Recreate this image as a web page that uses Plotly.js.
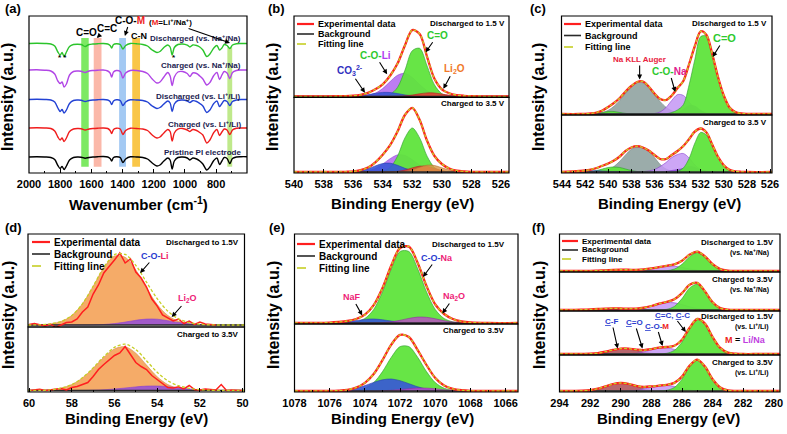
<!DOCTYPE html>
<html><head><meta charset="utf-8">
<script src="https://cdn.plot.ly/plotly-3.0.1.min.js"></script>
<style>html,body{margin:0;padding:0;background:#fff}#chart{width:787px;height:434px}</style>
</head><body><div id="chart"></div>
<script>
const W = 787, H = 434;
const FAM = '"Liberation Sans", Arial, Helvetica, sans-serif';
const px = x => x / W, py = y => 1 - y / H;

// ---------- (a) FTIR ----------
const aWavenumber = [2000,1950,1900,1860,1835,1815,1800,1788,1775,1760,1740,1715,1690,1665,1640,1615,1590,1560,1525,1495,1480,1470,1458,1440,1415,1398,1380,1350,1310,1270,1240,1210,1180,1160,1135,1110,1095,1082,1068,1045,1015,985,968,950,925,905,885,860,840,815,795,778,763,748,730,712,695,670,640,600];
const aDischargedNa = [129.5,129.8,129.5,129,127,121,118,120.5,116.5,121,126.5,128.5,128.8,128.5,126.5,128.5,129,129.3,129.5,129,127.5,125,128.5,129.3,128.5,124,127.5,129.5,129.2,128.5,127,123,120.5,121.5,125.5,128,126,118,125.5,128.5,129,127.8,126,128,127.5,126,123,116.5,119,125,127.5,123,125,128.5,127.5,124.5,128,129.3,129.5,129.5];
const aChargedNa = [103,103.3,102.8,102,99,92,89.5,91,86,89,98,101.5,102,101.8,100.5,102,102.5,102.8,103,102,100,96,101,102.5,101.5,95,100,102.5,102.5,101.5,99.5,94,90,91,96,100.5,97,87.5,96,101,101.5,99.5,96.5,100,99.5,97,94,88,90.5,97.5,100.5,93.5,98,101.5,100,94.5,100.5,102.5,103,103];
const aDischargedLi = [73.5,73.8,73.5,73,71,65,61.5,63.5,60,63,69.5,72.5,73,72.8,71.5,72.5,73,73.3,73.5,73,71.5,68.5,72,73.2,72.5,67.5,71,73.2,73,72.5,71,67,64.5,65.5,69,72,70,61.5,69,72.5,73,72,70.5,72.3,71.5,69.5,67,60.5,63,69.5,72,66.5,69.5,72.5,71.5,67.5,71.5,73,73.5,73.5];
const aChargedLi = [45,45.3,45,44.5,42,36,33,35,31.5,35,41.5,44,44.5,44.3,43,44,44.5,44.8,45,44.5,42.5,39.5,43.5,44.8,44,38.5,42.5,44.8,44.5,44,42.5,38,35,36,40,43.5,41.5,32,40,44,44.5,43,41.5,43.5,42.5,40.5,38,30,33,40.5,43.5,37.5,41,44,43,38.5,43,44.7,45,45];
const aPristine = [16,16.3,16,15.5,13.5,7.5,4.5,6.5,3.5,7,13,15.5,16,15.8,14.8,15.5,16,16.3,16.5,16,14.5,12,15.5,16.3,15.5,10.5,14,16.2,16,15.5,14,10,7,8,12,15,13,4,12,15.5,16,15,13,15,14,12,9,3,6,12.5,15,8.5,12,15.5,14.5,9.5,14.5,16,16.3,16.3];
const aTraceLabels = ['Discharged (vs. Na<sup>+</sup>/Na)','Charged (vs. Na<sup>+</sup>/Na)','Discharged (vs. Li<sup>+</sup>/Li)','Charged (vs. Li<sup>+</sup>/Li)','Pristine PI electrode'];
const aBandStart = [1665,1585,1422,1338,728];
const aBandEnd = [1617,1535,1378,1288,697];

// ---------- (b) O 1s, Li cell ----------
const bEnergy = [540,538,537,536.5,536,535.5,535,534.5,534,533.5,533,532.5,532,531.5,531,530.5,530,529.5,529,528.5,528,527,525.46];
const bTopCO = [0,0,0,0,0,0,0,0,0.2,1.9,8.9,26,45.6,48,30.4,11.5,2.6,0.4,0,0,0,0,0];
const bTopCOLi = [0,0,0,0,0.1,0.2,0.9,3.1,7.8,14.7,21,22.9,18.8,11.8,5.6,2.0,0.55,0.1,0,0,0,0,0];
const bTopCO3 = [0,0,0,0.05,0.2,0.7,1.6,3.0,3.9,3.8,2.7,1.4,0.5,0.1,0,0,0,0,0,0,0,0,0];
const bTopLi2O = [0,0,0,0,0,0,0,0,0,0,0.1,0.5,1.3,2.5,3.4,3.3,2.2,1.1,0.4,0.1,0,0,0];
const bTopExp = [0,0,0.05,0.2,0.6,1.5,3.5,7,12,20.5,32.7,50.8,66.2,62.4,39.4,17.5,7,3,1.2,0.5,0.2,0,0];
const bBotCO = [0,0,0,0,0,0,0,0.1,0.75,4.5,15.8,34.1,44,34.1,15.8,4.5,0.75,0.1,0,0,0,0,0];
const bBotCOLi = [0,0,0,0.05,0.1,0.35,1.2,3.5,7.9,13.3,17.1,16.6,12.3,6.9,2.9,0.9,0.2,0,0,0,0,0,0];
const bBotCO3 = [0,0,0,0.1,0.35,1.2,3.2,6.1,8.5,8.8,6.7,3.7,1.5,0.45,0.1,0,0,0,0,0,0,0,0];
const bBotLi2O = [0,0,0,0,0,0,0,0,0,0.15,0.6,1.95,4.1,5.8,5.6,3.6,1.6,0.5,0.1,0,0,0,0];
const bBotExtra = [0,0,0,0,0,0,0,0,0,0,0.2,0.7,2.3,4.8,6.8,6.5,4.2,1.9,0.55,0.1,0,0,0];
const bBotExp = [0,0,0.1,0.2,0.5,1.8,4.4,9.7,17.2,26.8,40.4,57,64.2,52,31.2,16,8,3.5,1.3,0.5,0.2,0,0];

// ---------- (c) O 1s, Na cell ----------
const cEnergy = [544.04,542.5,542,541.5,541,540.5,540,539.5,539,538.5,538,537.5,537,536.5,536,535.5,535,534.5,534,533.5,533,532.5,532,531.5,531,530.5,530,529.5,529,528.5,528,525.83];
const cTopAuger = [0,0,0,0.2,0.6,1.5,3.7,7.7,13.6,20.9,27.7,31.6,31.2,26.5,19.4,12.3,6.7,3.2,1.3,0.5,0.2,0,0,0,0,0,0,0,0,0,0,0];
const cTopMinor = [0,0,0,0.1,0.5,1.5,2.5,2.5,1.5,0.6,0.2,0,0,0,0,0,0,0,0,0,0,0,0,0,0,0,0,0,0,0,0,0];
const cTopCONa = [0,0,0,0,0,0,0,0,0,0,0,0,0,0.1,0.45,2.1,6.5,13.6,19.4,18.6,12.1,5.3,1.6,0.3,0,0,0,0,0,0,0,0];
const cTopCONa2 = [0,0,0,0,0,0,0,0,0,0,0,0,0,0,0,0,0,0.2,1.2,4.6,8.5,7.9,3.7,0.85,0.15,0,0,0,0,0,0,0];
const cTopCO = [0,0,0,0,0,0,0,0,0,0,0,0,0,0,0,0,0.1,1.5,4.1,9.3,29.2,54.8,77.4,77.8,59.8,37,18.5,6.5,2,0.6,0.2,0];
const cTopExp = [0,0,0.2,0.6,1.5,3.5,7,11,16,22.5,28,32,32.5,27.5,20.5,15,14,18.5,26,33,50,68,82.7,79,60,37,18.5,6.5,2,0.6,0.2,0];
const cBotAuger = [0,0,0,0,0.3,0.8,2.4,5.5,10.7,17.1,22.7,25,24,20.5,14.5,7.5,3,1,0.3,0,0,0,0,0,0,0,0,0,0,0,0,0];
const cBotMinor = [0,0,0.1,0.5,1.5,3,4.5,5,4.5,3,1.5,0.5,0.1,0,0,0,0,0,0,0,0,0,0,0,0,0,0,0,0,0,0,0];
const cBotMinor2 = [0,0.6,1,1.2,1.2,1,0.6,0.3,0.1,0,0,0,0,0,0,0,0,0,0,0,0,0,0,0,0,0,0,0,0,0,0,0];
const cBotCONa = [0,0,0,0,0,0,0,0,0,0,0,0,0.3,1,2.5,5.5,9.5,14.5,17.5,18.5,14,7,2.5,0.8,0.2,0,0,0,0,0,0,0];
const cBotCONa2 = [0,0,0,0,0,0,0,0,0,0,0,0,0,0,0,0,0.5,1.5,2.5,3.5,5.5,4.5,2,0.7,0.2,0,0,0,0,0,0,0];
const cBotCO = [0,0,0,0,0,0,0,0,0,0,0,0,0,0,0,0,0,0,0.8,4,13.6,29,39.6,36.9,26.7,15,6.6,2.2,0.6,0.15,0,0];
const cBotExp = [0,1,1.5,2.5,4,6.3,8.5,11.5,15.5,21,24.5,25.8,24.5,21.5,17,13,13,17,21,26,33,40.5,43.5,39.5,27.5,15.2,6.8,2.2,0.7,0.2,0,0];

// ---------- (d) Li 1s ----------
const dEnergy = [60.05,59.5,59,58.5,58,57.5,57,56.5,56,55.5,55,54.5,54,53.5,53,52.5,52,51.5,51,50.5,49.91];
const dTopCOLi = [0,0.2,1.1,3.5,9.5,21.2,38.6,57.2,68.9,67.7,55,36.9,20.6,9.5,3.7,1.2,0.3,0,0,0,0];
const dTopLi2O = [0,0,0,0,0,0,0.1,0.5,1.4,2.9,4.7,5.9,5.8,4.3,2.5,1.2,0.4,0.1,0,0,0];
const dTopFit = [0,0.2,1.1,3.5,9.5,21.2,38.7,57.7,70.3,70.6,59.7,42.8,26.4,13.8,6.2,2.4,0.7,0.1,0,0,0];
const dBotCOLi = [0,0.1,0.6,2.4,5.9,12.6,22.3,33.2,41.6,43.8,37.3,25.4,13.8,5.9,2.1,0.6,0.1,0,0,0,0];
const dBotLi2O = [0,0,0,0,0,0.1,0.3,0.7,1.5,2.5,3.6,4.4,4.5,3.8,2.7,1.6,0.8,0.3,0.1,0,0];
const dBotFit = [0,0.1,0.6,2.4,5.9,12.7,22.6,33.9,43.1,46.3,40.9,29.8,18.3,9.7,4.8,2.2,0.9,0.3,0.1,0,0];
const dExpEnergy = [60,59.75,59.5,59.25,59,58.75,58.5,58.25,58,57.75,57.5,57.25,57,56.75,56.5,56.25,56,55.75,55.5,55.25,55,54.75,54.5,54.25,54,53.75,53.5,53.25,53,52.75,52.5,52.25,52,51.75,51.5,51.25,51,50.75,50.5,50.25,50];
const dTopExp = [0.5,1.5,0.3,-1,0.8,-2.5,0,2.5,3,6,13,18,31,40,52,58,65,72,62,66,53,47,38,26,19,10,7,4,6,1.5,4,0.5,3,1,0.5,0,null,null,null,null,null];
const dBotExp = [0,0.3,1.2,0,0.5,1,2,0.5,3,4,6,8,14,21,26,31,35,37.5,44,36,28,24,21,15,11,7,3,2.5,3.7,1.5,5,1,0.5,1.5,0.8,0.5,6,0,0.5,0,0];

// ---------- (e) Na 1s ----------
const eEnergy = [1078,1077,1076,1075.5,1075,1074.5,1074,1073.5,1073,1072.5,1072,1071.5,1071,1070.5,1070,1069.5,1069,1068.5,1068,1067,1065.3];
const eTopCONa = [0,0,0,0,0.2,1.1,4.5,13.5,31.2,54.2,71.5,71.5,54.2,31.2,13.5,4.5,1.1,0.2,0,0,0];
const eTopNaF = [0,0,0.15,0.5,1.2,2.4,3.6,4,3.2,1.9,0.8,0.25,0,0,0,0,0,0,0,0,0];
const eTopNa2O = [0,0,0,0,0,0,0,0,0.4,1.2,2.7,4.6,5.9,5.7,4.2,2.3,1.0,0.3,0.1,0,0];
const eTopExp = [0,0.1,0.4,1,2,4,8.3,17.8,35,57.5,75,76.4,60.1,37,18.5,9,4,1.5,0.5,0,0];
const eBotCONa = [0,0,0,0,0.1,0.7,2.8,8.4,19.4,33.7,44.4,44.4,33.7,19.4,8.4,2.8,0.7,0.1,0,0,0];
const eBotNaF = [0,0,0.1,0.4,1.1,2.7,5.4,8.6,11.2,12,10.3,7.3,4.2,1.9,0.7,0.2,0,0,0,0,0];
const eBotNa2O = [0,0,0,0,0,0,0,0,0.3,0.7,1.4,2.3,2.9,2.9,2.2,1.3,0.6,0.2,0,0,0];
const eBotExp = [0,0,0.1,0.4,1.2,3.4,8.2,17,30.9,46.4,56.1,54,40.8,26,13,5.5,2.2,0.8,0.2,0,0];

// ---------- (f) C 1s ----------
const fEnergy = [294,293,292.5,292,291.5,291,290.5,290,289.5,289,288.5,288,287.5,287,286.5,286,285.5,285,284.5,284,283.5,283,282.5,282,281,279.6];
const f1CC = [0,0,0,0,0,0,0,0,0,0,0,0,0,0.3,1.9,6.7,14.3,18.5,14.3,6.7,1.9,0.3,0,0,0,0];
const f1COM = [0,0,0,0,0,0,0,0.05,0.15,0.5,1.2,2.4,3.9,4.9,4.8,3.6,2.1,0.9,0.3,0.1,0,0,0,0,0,0];
const f1CF = [0,0,0,0.15,0.4,0.7,1.1,1.2,1.1,0.7,0.4,0.15,0,0,0,0,0,0,0,0,0,0,0,0,0,0];
const f1Exp = [0,0,0.05,0.15,0.4,0.7,1.1,1.25,1.25,1.2,1.6,2.55,3.9,5.2,6.7,10.3,16.4,19.4,14.6,6.8,1.9,0.3,0.05,0,0,0];
const f2CC = [0,0,0,0,0,0,0,0,0,0,0,0,0.1,0.65,3.5,11.4,22.1,25.7,18,7.6,1.9,0.3,0,0,0,0];
const f2COM = [0,0,0,0,0,0,0,0.1,0.3,0.8,2.0,3.9,6.1,7.4,7.2,5.4,3.2,1.5,0.6,0.2,0,0,0,0,0,0];
const f2CF = [0,0.1,0.3,0.6,1,1.4,1.6,1.4,1,0.6,0.25,0.1,0,0,0,0,0,0,0,0,0,0,0,0,0,0];
const f2Exp = [0,0.1,0.3,0.6,1,1.4,1.6,1.5,1.3,1.4,2.25,4.0,6.3,8.05,10.7,16.8,25.3,27.2,18.6,7.8,1.9,0.3,0,0,0,0];
const f3CC = [0,0,0,0,0,0,0,0,0,0,0,0,0.1,0.7,3.6,11.9,25.4,34.7,30.4,17,6.1,1.4,0.3,0,0,0];
const f3COM = [0,0,0,0,0,0,0,0,0.2,0.7,2.0,4.2,6.1,6.3,4.6,2.4,0.9,0.3,0,0,0,0,0,0,0,0];
const f3CF = [0,0,0.1,0.3,0.9,2.3,4.1,5.4,5.2,3.7,1.9,0.7,0.25,0,0,0,0,0,0,0,0,0,0,0,0,0];
const f3Exp = [0,0,0.1,0.3,0.9,2.3,4.1,5.4,5.4,4.4,3.9,4.9,6.45,7.0,8.2,14.3,26.3,35,30.4,17,6.1,1.4,0.3,0,0,0];
const f4CC = [0,0,0,0,0,0,0,0,0,0,0,0,0.1,0.65,3.5,11.8,24.4,31,24.4,11.8,3.5,0.65,0.1,0,0,0];
const f4COM = [0,0,0,0,0,0,0,0,0.2,0.6,1.9,3.7,5.0,5.5,4.6,2.6,1.1,0.3,0,0,0,0,0,0,0,0];
const f4CF = [0,0.05,0.25,0.9,2.3,4.6,7.0,8,7.0,4.6,2.3,0.9,0.25,0.05,0,0,0,0,0,0,0,0,0,0,0,0];
const f4Exp = [0,0.05,0.25,0.9,2.3,4.6,7.0,8,7.2,5.2,4.2,4.6,5.35,6.2,8.1,14.4,25.5,31.3,24.4,11.8,3.5,0.65,0.1,0,0,0];

const baselineY = [0, 0];

// ---------- colours ----------
const C = {
  green: 'rgba(95,228,60,0.95)', greenL: '#2f9a2f',
  purple: 'rgba(178,102,240,0.85)', purpleL: '#8a3fd0',
  purple2: 'rgba(140,70,225,0.8)',
  lav: 'rgba(196,150,245,0.85)',
  blue: 'rgba(55,85,215,0.9)', blueL: '#2840b0',
  red: 'rgba(235,50,50,0.85)', redL: '#b02020',
  orange: 'rgba(220,150,70,0.8)',
  grey: 'rgba(150,168,165,0.95)', greyL: '#6f8480',
  sand: 'rgba(244,166,96,0.95)', sandL: '#d58a48',
  magenta: 'rgba(190,70,200,0.8)',
  brown: 'rgba(170,75,85,0.85)',
  exp: '#ff1f1f', fit: '#c6cf24', bg: '#2a2a2a'
};

const traces = [];
function area(xa, ya, x, y, fill, line) {
  traces.push({type:'scatter', mode:'lines', x:x, y:y, xaxis:xa, yaxis:ya, fill:'tozeroy', fillcolor:fill,
    line:{color:line, width:0.6, shape:'spline', smoothing:0.9}, hoverinfo:'skip', showlegend:false});
}
function curve(xa, ya, x, y, color, width, dash, shape) {
  traces.push({type:'scatter', mode:'lines', x:x, y:y, xaxis:xa, yaxis:ya,
    line:{color:color, width:width, dash:dash || 'solid', shape:shape || 'spline', smoothing:0.9},
    hoverinfo:'skip', showlegend:false, connectgaps:false});
}
function spectrum(xa, ya, x, exp, fit, expX, expShape) {
  curve(xa, ya, [x[0], x[x.length - 1]], baselineY, C.bg, 1.3);
  curve(xa, ya, expX || x, exp, C.exp, expX ? 1.5 : 2.3, 'solid', expShape);
  curve(xa, ya, x, fit, C.fit, 1.3, '3px,2px');
}

// (a)
const aSeries = [aDischargedNa, aChargedNa, aDischargedLi, aChargedLi, aPristine];
const aColors = ['#2bc42b', '#b146e6', '#2342d4', '#f01c1c', '#000000'];
aSeries.forEach((s, i) => curve('x', 'y', aWavenumber, s, aColors[i], 1.4));

// (b)
area('x2','y2', bEnergy, bTopCOLi, C.purple, C.purpleL);
area('x2','y2', bEnergy, bTopCO, C.green, C.greenL);
area('x2','y2', bEnergy, bTopCO3, C.blue, C.blueL);
area('x2','y2', bEnergy, bTopLi2O, C.red, C.redL);
spectrum('x2','y2', bEnergy, bTopExp, bTopExp);
area('x2','y3', bEnergy, bBotCOLi, C.purple, C.purpleL);
area('x2','y3', bEnergy, bBotCO, C.green, C.greenL);
area('x2','y3', bEnergy, bBotCO3, C.blue, C.blueL);
area('x2','y3', bEnergy, bBotLi2O, C.red, C.redL);
area('x2','y3', bEnergy, bBotExtra, C.orange, '#b07030');
spectrum('x2','y3', bEnergy, bBotExp, bBotExp);

// (c)
area('x3','y4', cEnergy, cTopAuger, C.grey, C.greyL);
area('x3','y4', cEnergy, cTopMinor, C.green, C.greenL);
area('x3','y4', cEnergy, cTopCONa, C.lav, C.purpleL);
area('x3','y4', cEnergy, cTopCONa2, C.purple2, C.purpleL);
area('x3','y4', cEnergy, cTopCO, C.green, C.greenL);
spectrum('x3','y4', cEnergy, cTopExp, cTopExp);
area('x3','y5', cEnergy, cBotAuger, C.grey, C.greyL);
area('x3','y5', cEnergy, cBotMinor, C.green, C.greenL);
area('x3','y5', cEnergy, cBotMinor2, C.blue, C.blueL);
area('x3','y5', cEnergy, cBotCONa, C.lav, C.purpleL);
area('x3','y5', cEnergy, cBotCONa2, C.purple2, C.purpleL);
area('x3','y5', cEnergy, cBotCO, C.green, C.greenL);
spectrum('x3','y5', cEnergy, cBotExp, cBotExp);

// (d)
area('x4','y6', dEnergy, dTopCOLi, C.sand, C.sandL);
area('x4','y6', dEnergy, dTopLi2O, C.purple2, C.purpleL);
spectrum('x4','y6', dEnergy, dTopExp, dTopFit, dExpEnergy, 'linear');
area('x4','y7', dEnergy, dBotCOLi, C.sand, C.sandL);
area('x4','y7', dEnergy, dBotLi2O, C.purple2, C.purpleL);
spectrum('x4','y7', dEnergy, dBotExp, dBotFit, dExpEnergy, 'linear');

// (e)
area('x5','y8', eEnergy, eTopCONa, C.green, C.greenL);
area('x5','y8', eEnergy, eTopNaF, C.blue, C.blueL);
area('x5','y8', eEnergy, eTopNa2O, C.magenta, '#9030a0');
spectrum('x5','y8', eEnergy, eTopExp, eTopExp);
area('x5','y9', eEnergy, eBotCONa, C.green, C.greenL);
area('x5','y9', eEnergy, eBotNaF, C.blue, C.blueL);
area('x5','y9', eEnergy, eBotNa2O, C.magenta, '#9030a0');
spectrum('x5','y9', eEnergy, eBotExp, eBotExp);

// (f)
[[f1CC,f1COM,f1CF,f1Exp,'y10'],[f2CC,f2COM,f2CF,f2Exp,'y11'],[f3CC,f3COM,f3CF,f3Exp,'y12'],[f4CC,f4COM,f4CF,f4Exp,'y13']].forEach(s => {
  area('x6', s[4], fEnergy, s[2], C.brown, '#803040');
  area('x6', s[4], fEnergy, s[1], C.lav, C.purpleL);
  area('x6', s[4], fEnergy, s[0], C.green, C.greenL);
  spectrum('x6', s[4], fEnergy, s[3], s[3]);
});

// ---------- layout ----------
const layout = {width:W, height:H, margin:{l:0,r:0,t:0,b:0}, paper_bgcolor:'#fff', plot_bgcolor:'rgba(0,0,0,0)',
  showlegend:false, shapes:[], annotations:[], font:{family:FAM, color:'#000'}};

function xAxis(id, domain, range, dtick, anchor) {
  layout['xaxis' + (id === 1 ? '' : id)] = {domain, range, anchor, dtick, tick0:0, ticks:'inside', ticklen:4, tickwidth:1,
    tickcolor:'#000', showline:false, showgrid:false, zeroline:false, ticklabelstandoff:3,
    tickfont:{family:FAM, size:11, color:'#000', weight:700},
    minor:{dtick:dtick/2, tick0:0, ticks:'inside', ticklen:2, tickwidth:1, tickcolor:'#000', showgrid:false},
    fixedrange:true};
}
function yAxis(id, domain, range, anchor) {
  layout['yaxis' + (id === 1 ? '' : id)] = {domain, range, anchor, showticklabels:false, ticks:'', showgrid:false,
    zeroline:false, showline:false, fixedrange:true};
}
function frame(xid, yid) {
  layout.shapes.push({type:'rect', xref:xid + ' domain', yref:yid + ' domain', x0:0, x1:1, y0:0, y1:1,
    line:{color:'#000', width:1.2}, layer:'above'});
}
function txt(x, y, text, size, color, opts) {
  layout.annotations.push(Object.assign({xref:'paper', yref:'paper', x:px(x), y:py(y), text, showarrow:false,
    font:{family:FAM, size, color:color || '#000', weight:700}, xanchor:'center', yanchor:'middle'}, opts || {}));
}
function arrowTxt(xref, yref, x, y, ax, ay, text, size, color) {
  layout.annotations.push({xref, yref, x, y, ax, ay, axref:'pixel', ayref:'pixel', text, showarrow:true,
    arrowhead:2, arrowsize:0.9, arrowwidth:1.1, arrowcolor:'#000', standoff:0,
    font:{family:FAM, size, color, weight:700}});
}
function legend(x, y, gap, len, size) {
  const items = [['Experimental data', C.exp, 'solid', 2.2], ['Background', C.bg, 'solid', 1.6], ['Fitting line', C.fit, 'dash', 1.6]];
  items.forEach((it, i) => {
    const yy = y + i * gap;
    layout.shapes.push({type:'line', xref:'paper', yref:'paper', x0:px(x), x1:px(x + len), y0:py(yy), y1:py(yy),
      line:{color:it[1], width:it[3], dash:it[2]}});
    txt(x + len + 2, yy, it[0], size, '#000', {xanchor:'left'});
  });
}

// axes
xAxis(1, [0.03685, 0.31385], [2000, 602], 200, 'y');
yAxis(1, [0.60138, 0.96313], [0, 157], 'x');
xAxis(2, [0.37357, 0.64676], [540, 525.46], 2, 'y3');
yAxis(2, [0.77581, 0.96313], [-1, 80.3], 'x2');
yAxis(3, [0.60138, 0.77581], [-1, 74.7], 'x2');
xAxis(3, [0.71347, 0.98094], [544.04, 525.83], 2, 'y5');
yAxis(4, [0.73502, 0.96313], [-1, 98], 'x3');
yAxis(5, [0.60138, 0.73502], [-1, 57], 'x3');
xAxis(4, [0.03558, 0.31067], [60.05, 49.91], 2, 'y7');
yAxis(6, [0.24654, 0.46083], [-2, 91], 'x4');
yAxis(7, [0.09677, 0.24654], [-1.5, 63.5], 'x4');
xAxis(5, [0.37421, 0.65820], [1078, 1065.3], 2, 'y9');
yAxis(8, [0.25346, 0.46083], [-1, 89], 'x5');
yAxis(9, [0.09677, 0.25346], [-1, 67], 'x5');
xAxis(6, [0.71093, 0.99111], [294, 279.6], 2, 'y13');
yAxis(10, [0.37327, 0.46083], [-1, 37], 'x6');
yAxis(11, [0.28341, 0.37327], [-1, 38], 'x6');
yAxis(12, [0.18203, 0.28341], [-1, 43], 'x6');
yAxis(13, [0.09677, 0.18203], [-1, 36], 'x6');

[['x','y'],['x2','y2'],['x2','y3'],['x3','y4'],['x3','y5'],['x4','y6'],['x4','y7'],['x5','y8'],['x5','y9'],
 ['x6','y10'],['x6','y11'],['x6','y12'],['x6','y13']].forEach(p => frame(p[0], p[1]));

// (a) bands
const bandColors = ['rgba(92,228,60,0.8)','rgba(250,160,140,0.75)','rgba(140,188,240,0.8)','rgba(248,188,40,0.85)','rgba(175,228,110,0.8)'];
aBandStart.forEach((s, i) => layout.shapes.push({type:'rect', xref:'x', yref:'y domain', x0:s, x1:aBandEnd[i],
  y0:0.04, y1:i === 4 ? 0.80 : 0.86, fillcolor:bandColors[i], line:{width:0}, layer:'below'}));

// titles
const XT = 'Binding Energy (eV)', YT = 'Intensity (a.u.)';
txt(138, 204, 'Wavenumber (cm<sup>-1</sup>)', 15);
txt(402, 204, XT, 15); txt(669, 204, XT, 15);
txt(136, 418, XT, 15); txt(402, 418, XT, 15); txt(668, 418, XT, 15);
[[8,97],[273,97],[539,97],[8,315],[273,315],[539,315]].forEach(p => txt(p[0], p[1], YT, 16, '#000', {textangle:-90}));
[['(a)',13,9],['(b)',276,9],['(c)',538,9],['(d)',13,228],['(e)',277,228],['(f)',538,228]].forEach(p => txt(p[1], p[2], p[0], 13));

// (a) texts
const navy = '#1c1c50';
[38, 65, 96, 124, 152].forEach((y, i) => txt(243, y, aTraceLabels[i], 8, navy, {xanchor:'right'}));
txt(86, 32, 'C=O', 10);
txt(139, 36, 'C-N', 9);
arrowTxt('x', 'y', 1565, 135, 10, -10, 'C=C', 10, '#000');
arrowTxt('x', 'y', 1385, 137, 5, -16, 'C-O-<span style="color:#ee2222">M</span>', 10, '#000');
arrowTxt('x', 'y', 711, 130, -60, -21, '(<span style="color:#ee2222">M</span>=Li<sup>+</sup>/Na<sup>+</sup>)', 8, '#000');
txt(62, 57, '* *', 8); txt(174, 58, '*', 8);

// (b) texts
legend(297, 24, 10, 17, 9);
txt(507, 24, 'Discharged to 1.5 V', 8, '#000', {xanchor:'right'});
txt(507, 103, 'Charged to 3.5 V', 8, '#000', {xanchor:'right'});
arrowTxt('x2','y2', 531.1, 44, 12, -17, 'C=O', 10, '#2ec92e');
arrowTxt('x2','y2', 533.7, 22, -12, -19, 'C-O-<span style="color:#b23cf0">Li</span>', 10, '#2ec92e');
arrowTxt('x2','y2', 535.2, 3.5, -15, -22, 'CO<sub>3</sub><sup>2-</sup>', 10, '#3030c0');
arrowTxt('x2','y2', 529.9, 7.5, 11, -20, 'Li<sub>2</sub>O', 10, '#f07828');

// (c) texts
legend(564, 24, 11.5, 17, 9);
txt(769, 24, 'Discharged to 1.5 V', 8, '#000', {xanchor:'right'});
txt(769, 122, 'Charged to 3.5 V', 8, '#000', {xanchor:'right'});
arrowTxt('x3','y4', 537.28, 34.5, 0, -20, 'Na KLL Auger', 8, '#e8203c');
arrowTxt('x3','y4', 534.2, 22, -6, -21, 'C-O-<span style="color:#e0208c">Na</span>', 10, '#2ec92e');
arrowTxt('x3','y4', 530.97, 57, 12, -19, 'C=O', 11, '#2ec92e');

// (d) texts
legend(32, 242, 12, 18, 10);
txt(241, 243, 'Discharged to 1.5V', 8, '#000', {xanchor:'right'});
txt(241, 334, 'Charged to 3.5V', 8, '#000', {xanchor:'right'});
arrowTxt('x4','y6', 54.8, 52, 15, -17, 'C-O-<span style="color:#ee2266">Li</span>', 9, '#2a3ccf');
arrowTxt('x4','y6', 53.32, 8, 16, -18, 'Li<sub>2</sub>O', 9, '#ee2277');

// (e) texts
legend(297, 244, 12, 18, 10);
txt(507, 244, 'Discharged to 1.5V', 8, '#000', {xanchor:'right'});
txt(507, 330, 'Charged to 3.5V', 8, '#000', {xanchor:'right'});
arrowTxt('x5','y8', 1070.7, 46, 14, -19, 'C-O-<span style="color:#ee2277">Na</span>', 9, '#2a3ccf');
arrowTxt('x5','y8', 1074.15, 7.5, -10, -18, 'NaF', 9, '#ee2277');
arrowTxt('x5','y8', 1069.6, 9.5, 12, -17, 'Na<sub>2</sub>O', 9, '#ee2277');

// (f) texts
legend(562, 241, 9, 16, 8);
[['Discharged to 1.5V',242,'(vs. Na<sup>+</sup>/Na)',252.5],['Charged to 3.5V',279,'(vs. Na<sup>+</sup>/Na)',289],
 ['Discharged to 1.5V',316,'(vs. Li<sup>+</sup>/Li)',326.5],['Charged to 3.5V',362.5,'(vs. Li<sup>+</sup>/Li)',372]].forEach(r => {
  txt(776, r[1], r[0], 8, '#000', {xanchor:'right'});
  txt(771, r[3], r[2], 7, '#000', {xanchor:'right'});
});
arrowTxt('x6','y12', 285.75, 22, -13, -17, '<u>C</u>=C, <u>C</u>-C', 8, '#2a3ccf');
arrowTxt('x6','y12', 290.2, 5.5, -6, -27, '<u>C</u>-F', 8, '#2a3ccf');
arrowTxt('x6','y12', 288.58, 5.5, -8, -26, '<u>C</u>=O', 8, '#2a3ccf');
arrowTxt('x6','y12', 287.27, 8, -6, -20, '<u>C</u>-O-<span style="color:#ee2222">M</span>', 8, '#2a3ccf');
txt(745, 340, '<span style="color:#ee2222">M</span> = <span style="color:#c040e0">Li/Na</span>', 9);

Plotly.newPlot('chart', traces, layout, {staticPlot:true, displayModeBar:false});
</script></body></html>
